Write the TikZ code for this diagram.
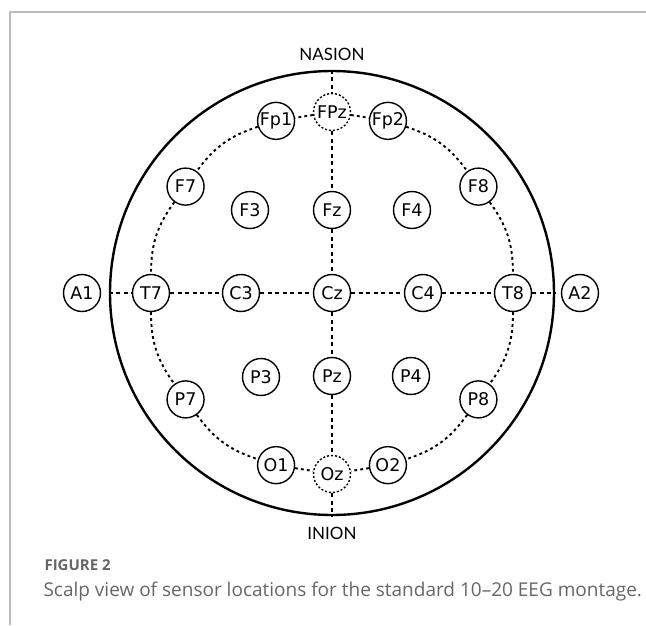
\documentclass[tikz,border=0pt]{standalone}
\usepackage{fontspec}
\setmainfont{DejaVu Sans}
\newfontfamily\landmarkfont{Lato}
\newfontfamily\captionfont{Open Sans}
\definecolor{framegray}{HTML}{BDBDBD}
\definecolor{captiongray}{HTML}{666666}

\begin{document}
\begin{tikzpicture}[x=1pt, y=1pt,
    electrode/.style={circle, draw, line width=1.4pt, minimum size=37pt,
    inner sep=0pt, font=\fontsize{17.5}{17.5}\selectfont},
    refsite/.style={electrode, dash pattern=on 2pt off 2pt},
    midline/.style={line width=1.9pt, dash pattern=on 4pt off 3.5pt},
    ringline/.style={line width=1.9pt, dash pattern=on 2.8pt off 3.2pt},
    landmark/.style={font=\landmarkfont\fontsize{17}{17}\selectfont}
    ]
\useasboundingbox (-332,-332) rectangle (314,293);
\draw[framegray, line width=1.3pt] (-322,-332) -- (-322,281) -- (314,281);
\node[circle, draw, line width=2.4pt, minimum size=444pt] (head) at (0,0) {};
\node[landmark] (nasion) at (0,239) {NASION};
\node[landmark] (inion) at (0,-240) {INION};

\node[refsite] (FPz) at (90:181) {FPz};
\node[electrode] (Fp1) at (108:181) {Fp1};
\node[electrode] (Fp2) at (72:181) {Fp2};
\node[electrode] (F7) at (144:181) {F7};
\node[electrode] (F8) at (36:181) {F8};
\node[electrode] (T7) at (180:181) {T7};
\node[electrode] (T8) at (0:181) {T8};
\node[electrode] (P7) at (216:181) {P7};
\node[electrode] (P8) at (324:181) {P8};
\node[electrode] (O1) at (252:181) {O1};
\node[electrode] (O2) at (288:181) {O2};
\node[refsite] (Oz) at (270:181) {Oz};

\node[electrode] (F3) at (-82,83) {F3};
\node[electrode] (Fz) at (0,83) {Fz};
\node[electrode] (F4) at (80,83) {F4};
\node[electrode] (C3) at (-91,0) {C3};
\node[electrode] (Cz) at (0,0) {Cz};
\node[electrode] (C4) at (91,0) {C4};
\node[electrode] (P3) at (-71,-84) {P3};
\node[electrode] (Pz) at (0,-83) {Pz};
\node[electrode] (P4) at (79,-83) {P4};
\node[electrode] (A1) at (-250,0) {A1};
\node[electrode] (A2) at (248,0) {A2};

\draw[midline] (head.north) -- (FPz);
\draw[midline] (FPz) -- (Fz);
\draw[midline] (Fz) -- (Cz);
\draw[midline] (Cz) -- (Pz);
\draw[midline] (Pz) -- (Oz);
\draw[midline] (Oz) -- (head.south);
\draw[midline] (head.west) -- (T7);
\draw[midline] (T7) -- (C3);
\draw[midline] (C3) -- (Cz);
\draw[midline] (Cz) -- (C4);
\draw[midline] (C4) -- (T8);
\draw[midline] (T8) -- (head.east);

\draw[ringline] (FPz) -- (Fp1);
\draw[ringline] (Fp1) to [bend right=18] (F7);
\draw[ringline] (F7) to [bend right=18] (T7);
\draw[ringline] (T7) to [bend right=18] (P7);
\draw[ringline] (P7) to [bend right=18] (O1);
\draw[ringline] (O1) -- (Oz);
\draw[ringline] (FPz) -- (Fp2);
\draw[ringline] (Fp2) to [bend left=18] (F8);
\draw[ringline] (F8) to [bend left=18] (T8);
\draw[ringline] (T8) to [bend left=18] (P8);
\draw[ringline] (P8) to [bend left=18] (O2);
\draw[ringline] (O2) -- (Oz);

\node[anchor=west, text=captiongray, font=\captionfont\bfseries\fontsize{15}{15}\selectfont] (figlabel) at (-291,-272) {FIGURE 2};
\node[anchor=west, text=captiongray, font=\captionfont\fontsize{19}{19}\selectfont] (caption) at (-292,-299) {Scalp view of sensor locations for the standard 10–20 EEG montage.};
\end{tikzpicture}
\end{document}
